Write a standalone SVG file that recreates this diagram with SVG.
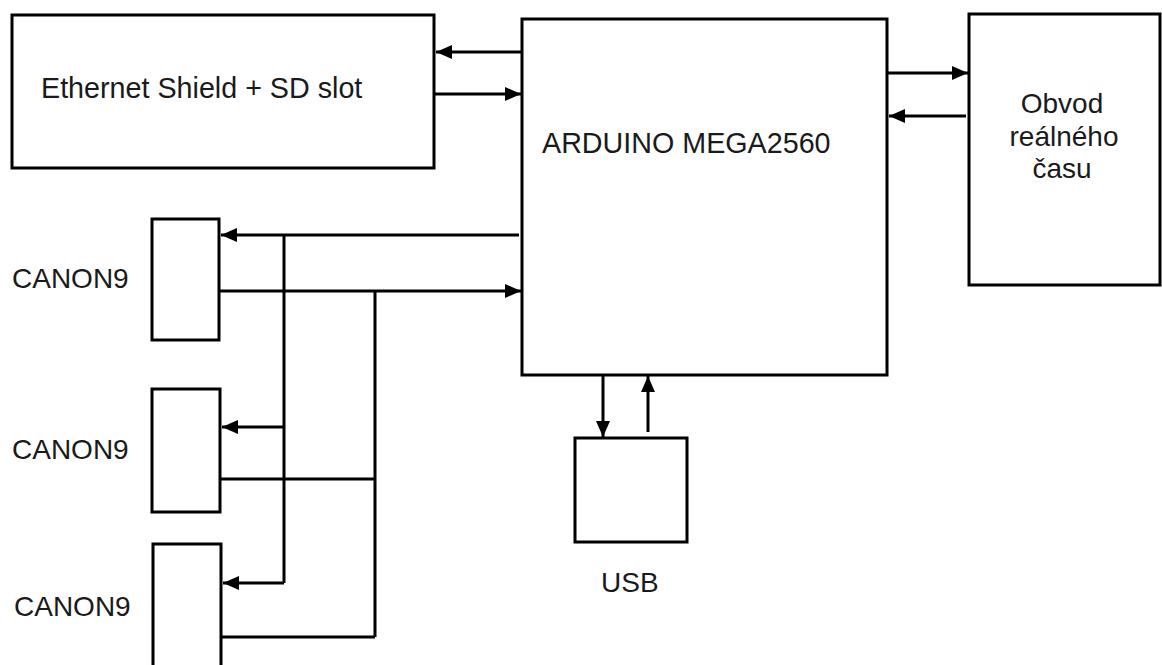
<svg xmlns="http://www.w3.org/2000/svg" width="1162" height="665" viewBox="0 0 1162 665">
<style>
.box{fill:#fff;stroke:#000;stroke-width:3}
.ln{fill:none;stroke:#000;stroke-width:3}
.arr{marker-end:url(#ah)}
text{font-family:"Liberation Sans",Arial,sans-serif;font-size:28px;fill:#1a1a1a}
.big{font-size:28.7px}
</style>
<defs>
<marker id="ah" markerUnits="userSpaceOnUse" viewBox="0 0 16 14" markerWidth="16" markerHeight="14" refX="16" refY="7" orient="auto">
<path d="M0,0 L16,7 L0,14 z" fill="#000"/>
</marker>
</defs>
<rect width="1162" height="665" fill="#fff"/>
<g id="ethernet">
<rect class="box" x="12" y="15" width="422" height="153"/>
<text class="big" x="41" y="98">Ethernet Shield + SD slot</text>
</g>
<g id="arduino">
<rect class="box" x="522" y="19" width="365" height="356"/>
<text class="big" x="542" y="153">ARDUINO MEGA2560</text>
</g>
<g id="rtc">
<rect class="box" x="969" y="14" width="191" height="271"/>
<text x="1062" y="113" text-anchor="middle">Obvod</text>
<text x="1064" y="146" text-anchor="middle">reálného</text>
<text x="1062" y="178" text-anchor="middle">času</text>
</g>
<g id="canon1">
<rect class="box" x="152" y="219" width="67" height="121"/>
<text x="12" y="288">CANON9</text>
</g>
<g id="canon2">
<rect class="box" x="152" y="389" width="68" height="123"/>
<text x="12" y="459">CANON9</text>
</g>
<g id="canon3">
<rect class="box" x="153" y="544" width="68" height="130"/>
<text x="14" y="616">CANON9</text>
</g>
<g id="usb">
<rect class="box" x="575" y="438" width="112" height="104"/>
<text x="601" y="592">USB</text>
</g>
<g id="connectors">
<path class="ln arr" d="M521,52 H436"/>
<path class="ln arr" d="M434,94 H521"/>
<path class="ln arr" d="M887,73 H968"/>
<path class="ln arr" d="M966,116 H889"/>
<path class="ln arr" d="M519,235 H221"/>
<path class="ln" d="M284,235 V583"/>
<path class="ln arr" d="M284,427 H222"/>
<path class="ln arr" d="M284,583 H223"/>
<path class="ln arr" d="M219,291 H521"/>
<path class="ln" d="M375,291 V637"/>
<path class="ln" d="M219,479 H375"/>
<path class="ln" d="M221,637 H375"/>
<path class="ln arr" d="M603,375 V437"/>
<path class="ln arr" d="M648,432 V376"/>
</g>
</svg>
